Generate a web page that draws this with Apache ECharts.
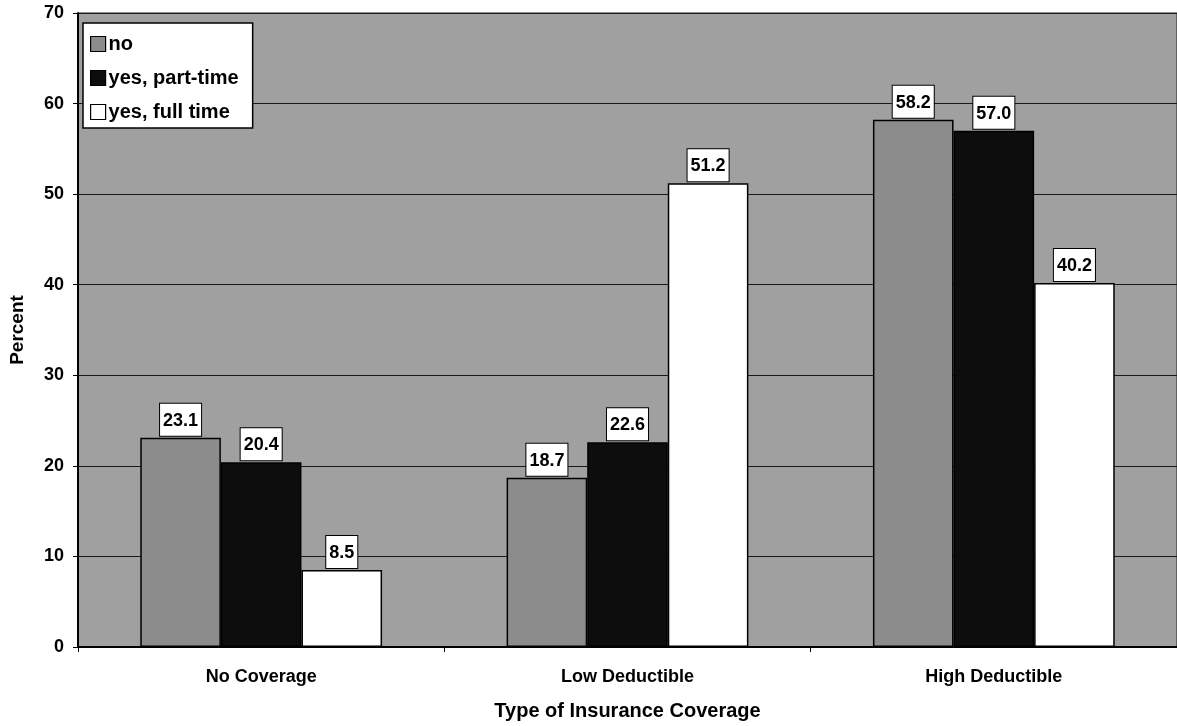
<!DOCTYPE html>
<html><head><meta charset="utf-8">
<script src="https://cdn.jsdelivr.net/npm/echarts@6/dist/echarts.min.js"></script>
<style>html,body{margin:0;padding:0;background:#fff}#c{width:1177px;height:726px}</style>
</head><body><div id="c"></div>
<script>
const categories = ['No Coverage', 'Low Deductible', 'High Deductible'];
const seriesNames = ['no', 'yes, part-time', 'yes, full time'];
const valuesNo = [23.1, 18.7, 58.2];
const valuesPartTime = [20.4, 22.6, 57.0];
const valuesFullTime = [8.5, 51.2, 40.2];
const yTicks = [0, 10, 20, 30, 40, 50, 60, 70];

const FONT = '"Liberation Sans", Arial, sans-serif';
const colors = ['#8c8c8c', '#0d0d0d', '#ffffff'];
const data = [valuesNo, valuesPartTime, valuesFullTime];

const chart = echarts.init(document.getElementById('c'));
chart.setOption({
  animation: false,
  backgroundColor: '#ffffff',
  textStyle: { fontFamily: FONT },
  grid: { left: 78, right: -5, top: 13, bottom: 79, show: true, backgroundColor: '#a0a0a0', borderColor: '#222', borderWidth: 1 },
  legend: {
    left: 83, top: 23, orient: 'vertical', itemGap: 14,
    itemWidth: 15, itemHeight: 15, icon: 'rect',
    backgroundColor: '#ffffff', borderColor: '#000', borderWidth: 1.5,
    padding: [11, 14, 6, 7],
    textStyle: { fontFamily: FONT, fontWeight: 'bold', fontSize: 20, color: '#000', padding: [0, 0, 0, -2] },
    data: seriesNames.map(n => ({ name: n, itemStyle: { borderColor: '#000', borderWidth: 1.2 } }))
  },
  xAxis: {
    type: 'category', data: categories,
    name: 'Type of Insurance Coverage', nameLocation: 'middle', nameGap: 54,
    nameTextStyle: { fontFamily: FONT, fontWeight: 'bold', fontSize: 20, color: '#000' },
    axisLine: { lineStyle: { color: '#000', width: 2 } },
    axisTick: { show: true, length: 5, lineStyle: { color: '#000' } },
    axisLabel: { fontFamily: FONT, fontWeight: 'bold', fontSize: 18, color: '#000', margin: 21 }
  },
  yAxis: {
    type: 'value', min: yTicks[0], max: yTicks[yTicks.length - 1], interval: 10,
    name: 'Percent', nameLocation: 'middle', nameGap: 51, nameRotate: 90,
    nameTextStyle: { fontFamily: FONT, fontWeight: 'bold', fontSize: 19, color: '#000' },
    axisLine: { show: true, lineStyle: { color: '#000', width: 2 } },
    axisTick: { show: true, length: 5, lineStyle: { color: '#000' } },
    axisLabel: { fontFamily: FONT, fontWeight: 'bold', fontSize: 18, color: '#000', margin: 14 },
    splitLine: { show: true, lineStyle: { color: '#1a1a1a', width: 1.2 } }
  },
  series: seriesNames.map((n, i) => ({
    name: n, type: 'bar', data: data[i],
    barGap: '0%', barCategoryGap: '34%',
    itemStyle: { color: colors[i], borderColor: '#000', borderWidth: 1.5 },
    label: {
      show: true, position: 'top', distance: 2,
      formatter: p => p.value.toFixed(1),
      fontFamily: FONT, fontWeight: 'bold', fontSize: 18, color: '#000',
      backgroundColor: '#ffffff', borderColor: '#000', borderWidth: 1,
      padding: [8, 3, 6, 3]
    }
  }))
});
</script></body></html>
